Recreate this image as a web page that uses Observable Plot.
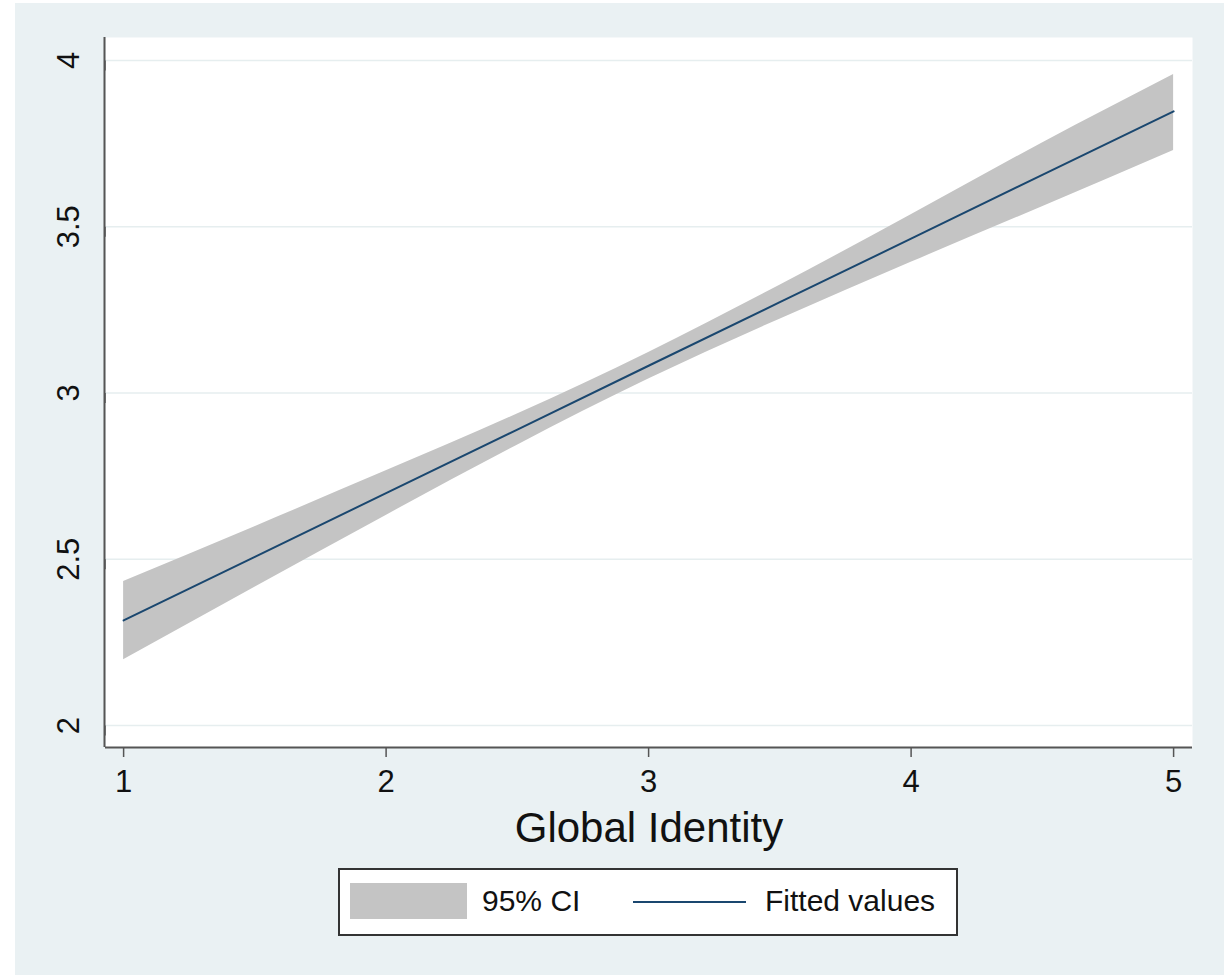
<!DOCTYPE html>
<html>
<head>
<meta charset="utf-8">
<script src="https://cdn.jsdelivr.net/npm/d3@7"></script>
<script src="https://cdn.jsdelivr.net/npm/@observablehq/plot@0.6"></script>
<style>
  html, body { margin: 0; padding: 0; background: #ffffff; }
  #page { position: relative; width: 1229px; height: 979px; overflow: hidden; font-family: "Liberation Sans", Arial, Helvetica, sans-serif; }
  #bg { position: absolute; left: 15px; top: 3px; width: 1209px; height: 972px; background: #eaf1f3; }
  #chart { position: absolute; left: 0; top: 0; }
  #legend { position: absolute; left: 338px; top: 868px; width: 620px; height: 68px; box-sizing: border-box; border: 2px solid #333; background: #fff; }
  #legend .sw { position: absolute; left: 10px; top: 13px; width: 117px; height: 36px; background: #c4c4c4; }
  #legend .ln { position: absolute; left: 293px; top: 31px; width: 113px; height: 0; border-top: 2px solid #1a476f; }
  #legend .t { position: absolute; top: 14px; font-size: 30px; line-height: 34px; color: #111; white-space: nowrap; }
</style>
</head>
<body>
<div id="page">
  <div id="bg"></div>
  <div id="chart"></div>
  <div id="legend"></div>
</div>
<script>
// Data (Global Identity vs fitted values with 95% CI)
const xValues  = [1, 1.5, 2, 2.5, 3, 3.5, 4, 4.5, 5];
const fitted   = [2.316, 2.507, 2.699, 2.890, 3.082, 3.273, 3.464, 3.656, 3.847];
const ciLow    = [2.198, 2.416, 2.632, 2.843, 3.042, 3.222, 3.393, 3.560, 3.729];
const ciHigh   = [2.433, 2.598, 2.766, 2.937, 3.122, 3.324, 3.536, 3.752, 3.958];
const xTicks   = [1, 2, 3, 4, 5];
const yTicks   = [2, 2.5, 3, 3.5, 4];
const xDomain  = [0.931, 5.072];
const yDomain  = [1.934, 4.069];
const xTitle   = "Global Identity";
const legendLabels = ["95% CI", "Fitted values"];

const rows = xValues.map((x, i) => ({x, fit: fitted[i], lo: ciLow[i], hi: ciHigh[i]}));

const chart = Plot.plot({
  width: 1229,
  height: 860,
  marginLeft: 105,
  marginRight: 37,
  marginTop: 37,
  marginBottom: 113,
  style: {background: "transparent", fontFamily: "'Liberation Sans', Arial, Helvetica, sans-serif", color: "#111"},
  x: {domain: xDomain},
  y: {domain: yDomain},
  marks: [
    Plot.frame({fill: "#ffffff", stroke: null}),
    Plot.gridY(yTicks, {stroke: "#e6eeef", strokeOpacity: 1, strokeWidth: 1.5}),
    Plot.areaY(rows, {x: "x", y1: "lo", y2: "hi", fill: "#c4c4c4", fillOpacity: 1, curve: "natural"}),
    Plot.line(rows, {x: "x", y: "fit", stroke: "#1a476f", strokeWidth: 2}),
    Plot.ruleX([xDomain[0]], {stroke: "#555", strokeWidth: 2, dx: -1}),
    Plot.ruleY([yDomain[0]], {stroke: "#555", strokeWidth: 2}),
    Plot.axisX(xTicks, {tickSize: 10, tickPadding: 12, fontSize: 31, label: null, stroke: "#555", strokeWidth: 1.5, fill: "#111", tickFormat: d => String(d)}),
    Plot.axisY(yTicks, {tickSize: 10, tickPadding: 26, fontSize: 31, label: null, rotate: -90, textAnchor: "middle", stroke: "#555", strokeWidth: 1.5, fill: "#111", tickFormat: d => String(d)}),
    Plot.text([xTitle], {frameAnchor: "bottom", dy: 81, text: d => d, fontSize: 42, fill: "#111", lineAnchor: "middle"})
  ]
});
document.getElementById("chart").appendChild(chart);

const legend = document.getElementById("legend");
legend.innerHTML = `
  <div class="sw"></div>
  <div class="t" style="left:142px">${legendLabels[0]}</div>
  <div class="ln"></div>
  <div class="t" style="left:425px">${legendLabels[1]}</div>`;
</script>
</body>
</html>
